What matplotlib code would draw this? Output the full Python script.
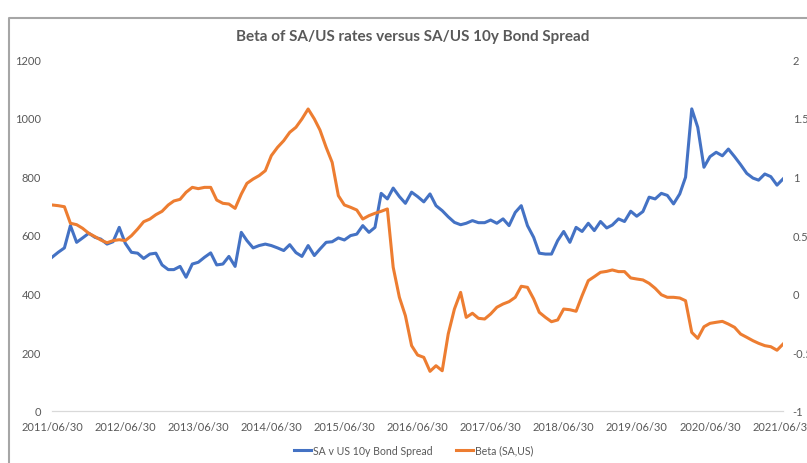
import pandas as pd
import matplotlib.pyplot as plt
from matplotlib.lines import Line2D

plt.rcParams['font.family'] = ['Lato', 'DejaVu Sans']

# monthly month-end dates, 2011/06/30 .. 2021/06/30
dates = pd.date_range('2011-06-30', periods=121, freq='ME')
tick_dates = pd.date_range('2011-06-30', periods=11, freq='12ME')
tick_labels = [d.strftime('%Y/%m/%d') for d in tick_dates]

spread = [524, 541, 556, 632, 575, 590, 606, 592, 586, 569, 577, 626,
          572, 541, 538, 520, 535, 538, 498, 482, 482, 493, 456, 501,
          507, 524, 539, 498, 501, 527, 493, 609, 581, 556, 564, 569,
          564, 556, 547, 567, 540, 527, 564, 530, 552, 575, 577, 590,
          583, 598, 603, 632, 609, 626, 742, 723, 760, 731, 708, 746,
          731, 713, 740, 700, 683, 662, 643, 635, 640, 649, 642, 642,
          651, 640, 655, 632, 677, 700, 632, 592, 538, 535, 535, 581,
          612, 575, 626, 612, 640, 615, 646, 624, 634, 655, 646, 681,
          664, 680, 729, 723, 742, 735, 706, 740, 797, 1030, 967, 831,
          867, 882, 870, 893, 867, 840, 810, 794, 787, 808, 799, 770,
          791]

beta = [0.756, 0.750, 0.741, 0.600, 0.588, 0.557, 0.514, 0.486, 0.457, 0.434, 0.452, 0.460,
        0.452, 0.494, 0.551, 0.613, 0.636, 0.673, 0.702, 0.756, 0.790, 0.804, 0.864, 0.906,
        0.895, 0.906, 0.906, 0.798, 0.770, 0.764, 0.727, 0.849, 0.940, 0.977, 1.006, 1.048,
        1.176, 1.247, 1.304, 1.375, 1.418, 1.489, 1.574, 1.489, 1.395, 1.247, 1.119, 0.835,
        0.756, 0.736, 0.713, 0.636, 0.665, 0.685, 0.702, 0.722, 0.225, -0.031, -0.188, -0.443,
        -0.523, -0.543, -0.662, -0.614, -0.657, -0.344, -0.131, 0.011, -0.202, -0.167, -0.210, -0.216,
        -0.173, -0.116, -0.088, -0.068, -0.031, 0.063, 0.054, -0.045, -0.159, -0.202, -0.239, -0.224,
        -0.131, -0.137, -0.150, -0.017, 0.111, 0.145, 0.182, 0.190, 0.202, 0.188, 0.188, 0.134,
        0.125, 0.117, 0.088, 0.046, -0.009, -0.031, -0.031, -0.037, -0.060, -0.330, -0.381, -0.282,
        -0.253, -0.244, -0.236, -0.259, -0.287, -0.344, -0.372, -0.401, -0.423, -0.443, -0.452, -0.482,
        -0.43]

blue = '#4472C4'
orange = '#ED7D31'
txt = '#595959'

fig = plt.figure(figsize=(8.07, 4.64), dpi=100)
ax = fig.add_axes([52/807, 1 - 412/464, (783 - 52)/807, (412 - 60)/464])
ax2 = ax.twinx()

l1, = ax.plot(dates, spread, color=blue, lw=2.2, label='SA v US 10y Bond Spread')
l2, = ax2.plot(dates, beta, color=orange, lw=2.2, label='Beta (SA,US)')

ax.set_xlim(dates[0], dates[-1])
ax.set_ylim(0, 1200)
ax.set_yticks(range(0, 1201, 200))
ax2.set_ylim(-1, 2)
ax2.set_yticks([-1, -0.5, 0, 0.5, 1, 1.5, 2])
ax2.set_yticklabels(['-1', '-0.5', '0', '0.5', '1', '1.5', '2'])
ax.set_xticks(tick_dates)
ax.set_xticklabels(tick_labels)

for a in (ax, ax2):
    for s in ('top', 'left', 'right'):
        a.spines[s].set_visible(False)
    a.spines['bottom'].set_color('#D9D9D9')
    a.tick_params(length=0, labelsize=8, labelcolor=txt)
ax.tick_params(axis='y', pad=8)
ax2.tick_params(axis='y', pad=7)
ax.tick_params(axis='x', pad=7)

fig.text(0.512, 0.92, 'Beta of SA/US rates versus SA/US 10y Bond Spread',
         ha='center', va='center', fontsize=11, fontweight='bold', color=txt)

fig.legend(handles=[l1, l2], loc='center', bbox_to_anchor=(0.513, 0.028), ncol=2,
           frameon=False, fontsize=7.6, labelcolor=txt, handlelength=1.6,
           handletextpad=0.2, columnspacing=2.2)

# chart frame (partly cropped)
fig.add_artist(Line2D([9/807, 9/807, 1], [0, 1 - 19/464, 1 - 19/464],
                      transform=fig.transFigure, color='#A6A6A6', lw=1.5))

fig.savefig('out.png', dpi=100)
